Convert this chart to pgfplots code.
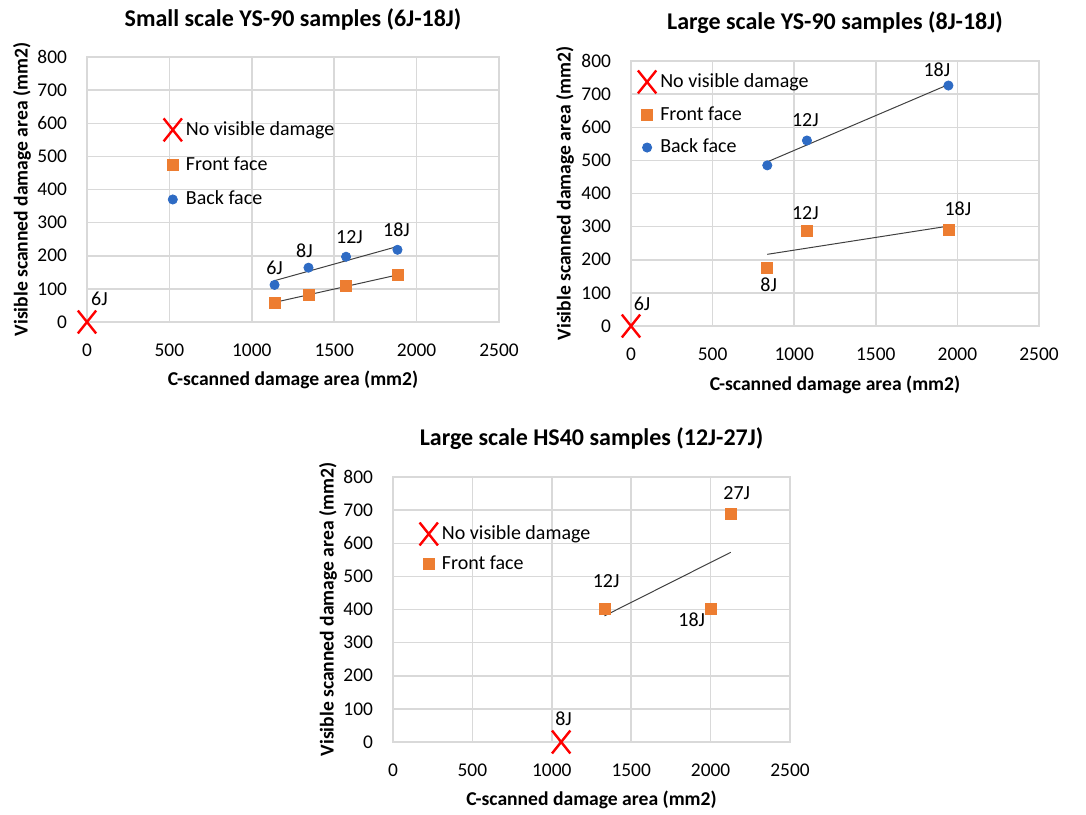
\documentclass[border=0pt]{standalone}
\usepackage{fontspec}
\setmainfont{Carlito}
\usepackage{pgfplots}
\usepackage{pgfplotstable}
\pgfplotsset{compat=1.18}
\definecolor{xorange}{HTML}{ED7D31}
\definecolor{xblue}{HTML}{2E6BC4}
\definecolor{gridc}{HTML}{D9D9D9}
\definecolor{trend}{HTML}{404040}

% ---------- Small scale YS-90 ----------
\pgfplotstableread{
x y lab dx dy
0 0 6J 6.2 11.8
}\Anone
\pgfplotstableread{
x y
1138 58
1344 83
1572 109
1884 141
}\Afront
\pgfplotstableread{
x y lab dx dy
1138 112 6J 0 8.3
1344 164 8J -2 8.5
1572 197 12J 1.7 9.7
1884 218 18J -0.5 10
}\Aback
% ---------- Large scale YS-90 ----------
\pgfplotstableread{
x y lab dx dy
0 0 6J 5.5 11.2
}\Bnone
\pgfplotstableread{
x y lab dx dy
835 175 8J 0.7 -8.5
1078 288 12J -0.8 8.7
1945 290 18J 4.7 10.8
}\Bfront
\pgfplotstableread{
x y lab dx dy
835 485 {} 0 0
1078 560 12J -0.8 10
1945 726 18J -5.8 7.8
}\Bback
% ---------- Large scale HS40 ----------
\pgfplotstableread{
x y lab dx dy
1059 0 8J 1.2 11.7
}\Cnone
\pgfplotstableread{
x y lab dx dy
1332 403 12J 0.8 13.7
2001 403 18J -9.5 -5.8
2127 690 27J 3 10
}\Cfront

\pgfplotsset{
 chart/.style={
   scale only axis, height=132.5pt,
   xmin=0,xmax=2500,ymin=0,ymax=800,
   xtick={0,500,1000,1500,2000,2500},
   ytick={0,100,...,800},
   grid=major,
   grid style={gridc, line width=0.75pt},
   axis line style={gridc, line width=0.75pt},
   major tick length=0pt,
   clip=false,
   /pgf/number format/assume math mode=true,
   /pgf/number format/1000 sep={},
   scaled ticks=false,
   tick label style={font=\fontsize{9.7}{11}\selectfont, text=black},
   xticklabel style={yshift=-7.5pt},
   yticklabel style={xshift=-6.5pt},
   label style={font=\bfseries\fontsize{9.8}{11}\selectfont},
   every axis title shift=0pt,
   title style={font=\bfseries\fontsize{12}{14}\selectfont, anchor=center},
   xlabel style={anchor=center},
   ylabel style={anchor=center},
   legend style={draw=none, fill=none, font=\fontsize{10}{12}\selectfont,
     anchor=north west, row sep=5pt, inner sep=0pt, outer sep=0pt},
   legend cell align=left,
   legend image code/.code={\draw[#1] plot coordinates {(0pt,0pt)};},
 },
 nox/.style={only marks, mark=x, mark size=8.1pt, color=red, line width=1.2pt,
   mark options={xscale=0.8, solid}},
 sq/.style={only marks, mark=square*, mark size=2.75pt, color=xorange,
   mark options={draw=xorange, fill=xorange}},
 ci/.style={only marks, mark=*, mark size=2.3pt, color=xblue,
   mark options={draw=xblue, fill=xblue}},
 labs/.style={nodes near coords, point meta=explicit symbolic,
   visualization depends on={\thisrow{dx}\as\dx},
   visualization depends on={\thisrow{dy}\as\dy},
   every node near coord/.append style={anchor=center, xshift=\dx pt, yshift=\dy pt,
     font=\fontsize{10}{12}\selectfont, text=black}},
 trendl/.style={no marks, color=trend, line width=0.5pt, forget plot},
}

\begin{document}
\begin{tikzpicture}
\path[use as bounding box] (0pt,0pt) rectangle (543pt,-407pt);

\begin{axis}[chart, at={(43.5pt,-161pt)}, anchor=south west, width=206pt,
  title={Small scale YS-90 samples (6J-18J)},
  title style={at={(axis description cs:0.5,1.14)}},
  xlabel={C-scanned damage area (mm2)},
  xlabel style={at={(axis description cs:0.5,-0.219)}},
  ylabel={Visible scanned damage area (mm2)},
  ylabel style={at={(axis description cs:-0.158,0.5)}},
  legend style={at={(axis description cs:0.186,0.772)}}]
\addplot[nox, labs] table[x=x, y=y, meta=lab] \Anone; \addlegendentry{No visible damage}
\addplot[sq] table[x=x, y=y] \Afront; \addlegendentry{Front face}
\addplot[ci, labs] table[x=x, y=y, meta=lab] \Aback; \addlegendentry{Back face}
\addplot[trendl] table[x=x, y={create col/linear regression={y=y}}] \Afront;
\addplot[trendl] table[x=x, y={create col/linear regression={y=y}}] \Aback;
\end{axis}

\begin{axis}[chart, at={(315.5pt,-163pt)}, anchor=south west, width=204pt,
  title={Large scale YS-90 samples (8J-18J)},
  title style={at={(axis description cs:0.5,1.143)}},
  xlabel={C-scanned damage area (mm2)},
  xlabel style={at={(axis description cs:0.5,-0.223)}},
  ylabel={Visible scanned damage area (mm2)},
  ylabel style={at={(axis description cs:-0.162,0.5)}},
  legend style={at={(axis description cs:0.017,0.968)}, row sep=4pt}]
\addplot[nox, labs] table[x=x, y=y, meta=lab] \Bnone; \addlegendentry{No visible damage}
\addplot[sq, labs] table[x=x, y=y, meta=lab] \Bfront; \addlegendentry{Front face}
\addplot[ci, labs] table[x=x, y=y, meta=lab] \Bback; \addlegendentry{Back face}
\addplot[trendl] table[x=x, y={create col/linear regression={y=y}}] \Bfront;
\addplot[trendl] table[x=x, y={create col/linear regression={y=y}}] \Bback;
\end{axis}

\begin{axis}[chart, at={(196.5pt,-371pt)}, anchor=south west, width=198.5pt,
  title={Large scale HS40 samples (12J-27J)},
  title style={at={(axis description cs:0.5,1.143)}},
  xlabel={C-scanned damage area (mm2)},
  xlabel style={at={(axis description cs:0.5,-0.219)}},
  ylabel={Visible scanned damage area (mm2)},
  ylabel style={at={(axis description cs:-0.164,0.5)}},
  legend style={at={(axis description cs:0.067,0.832)}, row sep=2.75pt}]
\addplot[nox, labs] table[x=x, y=y, meta=lab] \Cnone; \addlegendentry{No visible damage}
\addplot[sq, labs] table[x=x, y=y, meta=lab] \Cfront; \addlegendentry{Front face}
\addplot[trendl] table[x=x, y={create col/linear regression={y=y}}] \Cfront;
\end{axis}
\end{tikzpicture}
\end{document}
